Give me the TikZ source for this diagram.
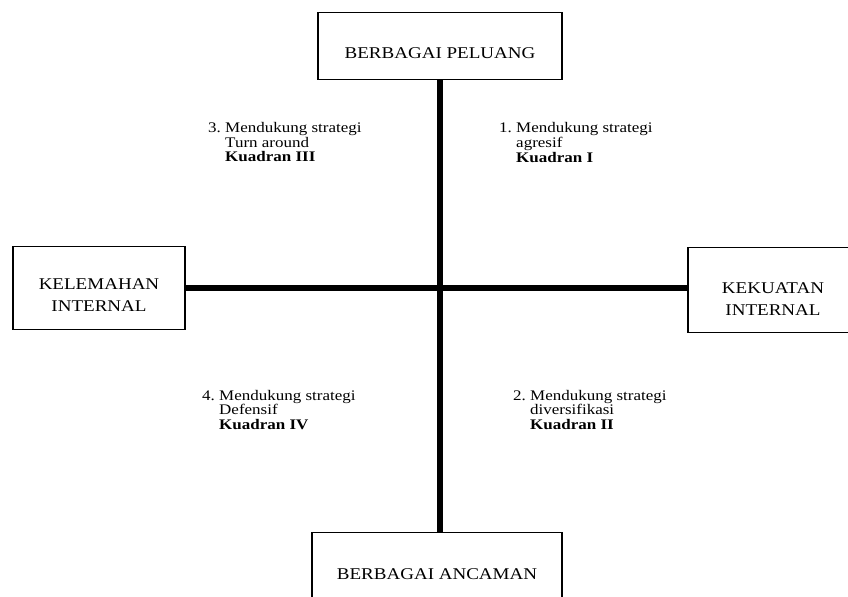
\documentclass[tikz,border=0pt]{standalone}
\usepackage{fontspec}
\setmainfont{Liberation Serif}[FakeStretch=1.16]
\usepackage{tikz}
\usetikzlibrary{positioning}

\begin{document}
\begin{tikzpicture}[
    x=0.03cm, y=-0.03cm,
    kotak/.style={rectangle, draw=black, line width=0.9pt, align=center, inner sep=0pt, anchor=north, font=\fontsize{14}{18.7}\selectfont},
    sumbu/.style={line width=4.5pt},
    kuadran/.style={anchor=base west, inner sep=0pt, font=\fontsize{12.5}{12.3}\selectfont}
]
\useasboundingbox (0,0) rectangle (848,597);

% Boxes on the four sides
\node[kotak, minimum width=7.32cm, text height=1.365cm, text depth=0.645cm] (peluang) at (440,12) {BERBAGAI PELUANG};
\node[kotak, minimum width=7.5cm, text height=1.395cm, text depth=1.0cm] (ancaman) at (437,532) {BERBAGAI ANCAMAN};
\node[kotak, minimum width=5.16cm, text height=1.935cm, text depth=0.555cm] (kelemahan) at (99,246) {KELEMAHAN\\INTERNAL};
\node[kotak, minimum width=5.1cm, text height=2.025cm, text depth=0.525cm] (kekuatan) at (773,247) {KEKUATAN\\INTERNAL};

% Axes
\draw[sumbu] (peluang.south) -- (peluang.south |- ancaman.north);
\draw[sumbu] (kelemahan.east) -- (kelemahan.east -| kekuatan.west);

% Quadrant labels
\node[kuadran] (k3) at (208,133) {\begin{tabular}[t]{@{}l@{\ }l@{}}3. & Mendukung strategi\\ & Turn around\\ & \textbf{Kuadran III}\end{tabular}};
\node[kuadran] (k1) at (499,133) {\begin{tabular}[t]{@{}l@{\ }l@{}}1. & Mendukung strategi\\ & agresif\\ & \textbf{Kuadran I}\end{tabular}};
\node[kuadran] (k4) at (202,400) {\begin{tabular}[t]{@{}l@{\ }l@{}}4. & Mendukung strategi\\ & Defensif\\ & \textbf{Kuadran IV}\end{tabular}};
\node[kuadran] (k2) at (513,400) {\begin{tabular}[t]{@{}l@{\ }l@{}}2. & Mendukung strategi\\ & diversifikasi\\ & \textbf{Kuadran II}\end{tabular}};

\end{tikzpicture}
\end{document}
